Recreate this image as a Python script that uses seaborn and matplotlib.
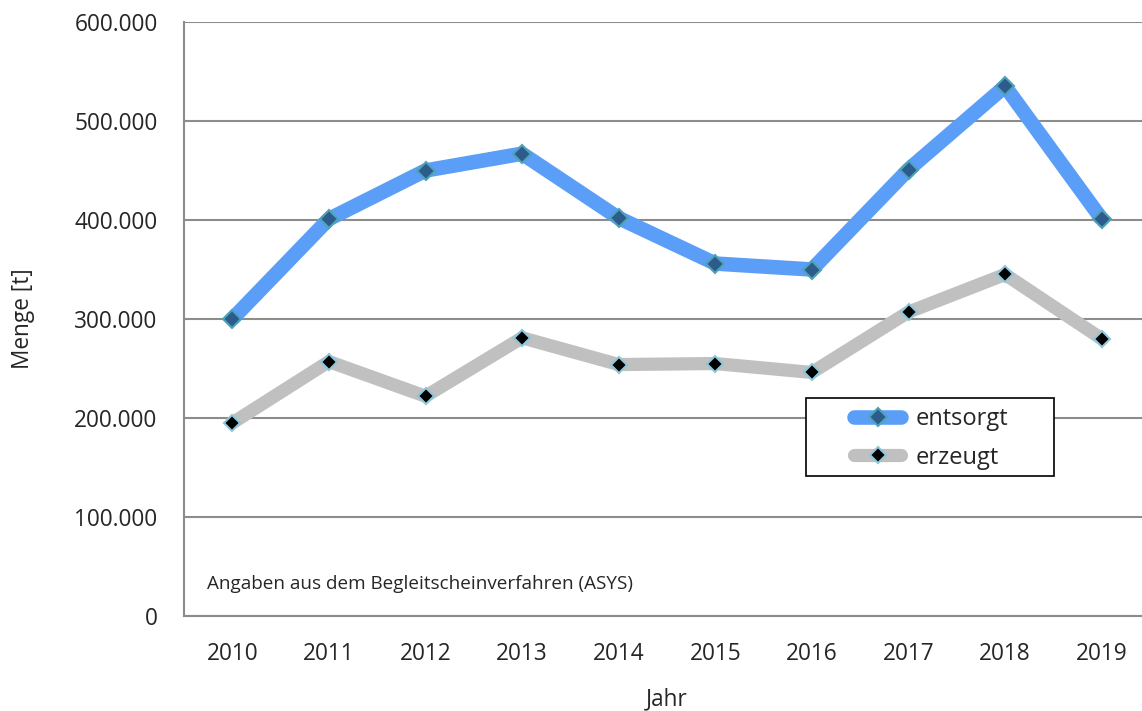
import matplotlib
matplotlib.use("Agg")
import matplotlib.pyplot as plt
import matplotlib.ticker as mticker
from matplotlib.patches import Rectangle
import seaborn as sns
import pandas as pd

years = [2010, 2011, 2012, 2013, 2014, 2015, 2016, 2017, 2018, 2019]
entsorgt = [300000, 401000, 450000, 467000, 402000, 356000, 350000, 451000, 535000, 401000]
erzeugt = [195000, 257000, 222000, 281000, 254000, 255000, 246000, 307000, 345000, 280000]
yticks = [0, 100000, 200000, 300000, 400000, 500000, 600000]

sns.set_style("white")
plt.rcParams['font.family'] = ['Open Sans', 'DejaVu Sans']

W, H = 1142, 711
fig = plt.figure(figsize=(W / 100, H / 100), dpi=100)
left, right, top, bottom = 184, 1150, 22, 616
ax = fig.add_axes([left / W, 1 - bottom / H, (right - left) / W, (bottom - top) / H])

x = list(range(len(years)))
df_a = pd.DataFrame({"x": x, "v": entsorgt})
df_b = pd.DataFrame({"x": x, "v": erzeugt})

sns.lineplot(data=df_a, x="x", y="v", ax=ax, color="#5B9EF8", linewidth=10.5,
             marker="D", markersize=9, markerfacecolor="#2D5C8C",
             markeredgecolor="#4FA3B8", markeredgewidth=1.5, label="entsorgt",
             solid_capstyle="butt", zorder=3)
sns.lineplot(data=df_b, x="x", y="v", ax=ax, color="#C0C0C0", linewidth=9.5,
             marker="D", markersize=8, markerfacecolor="#000000",
             markeredgecolor="#8EC6DA", markeredgewidth=1.5, label="erzeugt",
             solid_capstyle="butt", zorder=3)

ax.set_xlim(-0.5, len(years) - 0.5)
ax.set_ylim(0, 600000)
ax.set_xticks(x)
ax.set_xticklabels([str(y) for y in years])
ax.set_yticks(yticks)
ax.yaxis.set_major_formatter(mticker.FuncFormatter(lambda v, p: f"{int(v):,}".replace(",", ".")))
ax.grid(axis="y", color="#8C8C8C", linewidth=1.5, zorder=0)
ax.set_axisbelow(True)
for s in ["top", "right"]:
    ax.spines[s].set_visible(False)
for s in ["left", "bottom"]:
    ax.spines[s].set_color("#8C8C8C")
    ax.spines[s].set_linewidth(1.5)
ax.tick_params(axis="both", labelsize=16.3, length=0)
ax.tick_params(axis="x", pad=19)
ax.tick_params(axis="y", pad=19)

ax.set_xlabel("Jahr", fontsize=16.3, labelpad=15)
ax.set_ylabel("Menge [t]", fontsize=16.3, labelpad=28)

ax.text(207 / W, 1 - 584 / H, "Angaben aus dem Begleitscheinverfahren (ASYS)",
        transform=fig.transFigure, fontsize=13.6, va="center", ha="left")

# legend box
box = Rectangle((806 / W, 1 - 476 / H), (1054 - 806) / W, (476 - 398) / H,
                transform=fig.transFigure, facecolor="white", edgecolor="black",
                linewidth=1.2, zorder=5, clip_on=False)
ax.add_artist(box)

leg = ax.legend(loc="upper left", bbox_to_anchor=((854 - left) / (right - left), 1 - (407 - top) / (bottom - top)),
                frameon=False, fontsize=17, handlelength=2.0,
                borderpad=0, labelspacing=0.62, handletextpad=0.6, borderaxespad=0)
leg.set_zorder(6)
for h in leg.get_lines():
    h.set_solid_capstyle("round")

fig.savefig("out.png", dpi=100)
